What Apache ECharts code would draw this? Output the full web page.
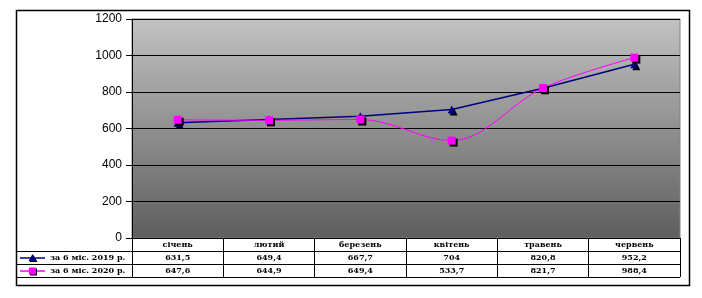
<!DOCTYPE html>
<html><head><meta charset="utf-8">
<script src="https://cdn.jsdelivr.net/npm/echarts@6/dist/echarts.min.js"></script>
<style>html,body{margin:0;padding:0;background:#fff}#c{width:702px;height:298px}</style>
</head><body><div id="c"></div>
<script>
const categories = ['січень','лютий','березень','квітень','травень','червень'];
const series2019 = [631.5, 649.4, 667.7, 704, 820.8, 952.2];
const series2020 = [647.6, 644.9, 649.4, 533.7, 821.7, 988.4];
const seriesNames = ['за 6 міс. 2019 р.', 'за 6 міс. 2020 р.'];
const yTicks = {min: 0, max: 1200, interval: 200};

const fmt = v => String(v).replace('.', ',');
const tableFont = {fontFamily: 'DejaVu Serif', fontWeight: 'bold', fontSize: 8, color: '#000'};
const shadow = {shadowColor: '#000', shadowBlur: 0, shadowOffsetX: 2, shadowOffsetY: 2, borderWidth: 0};

function tableAxis(data, offset) {
  return {
    type: 'category', position: 'bottom', offset: offset, data: data,
    boundaryGap: true,
    axisLine: {show: true, lineStyle: {color: '#000', width: 1}},
    axisTick: {show: true, interval: 0, length: 13, lineStyle: {color: '#000', width: 1}},
    axisLabel: Object.assign({interval: 0, margin: 3}, tableFont),
    splitLine: {show: false}
  };
}

const chart = echarts.init(document.getElementById('c'), null, {renderer: 'canvas'});
chart.setOption({
  animation: false,
  backgroundColor: '#fff',
  grid: {
    left: 132, right: 22, top: 19, bottom: 60, show: true,
    backgroundColor: new echarts.graphic.LinearGradient(0, 0, 0, 1, [
      {offset: 0, color: '#c2c2c2'}, {offset: 1, color: '#5e5e5e'}
    ]),
    borderColor: '#808080', borderWidth: 1
  },
  xAxis: [
    tableAxis(categories, 0),
    tableAxis(series2019.map(fmt), 13),
    tableAxis(series2020.map(fmt), 26)
  ],
  yAxis: {
    type: 'value', min: yTicks.min, max: yTicks.max, interval: yTicks.interval,
    axisLine: {show: true, lineStyle: {color: '#000', width: 1}},
    axisTick: {show: true, length: 6, lineStyle: {color: '#000'}},
    axisLabel: {color: '#000', fontFamily: 'Liberation Sans', fontSize: 12, margin: 10, formatter: v => String(v)},
    splitLine: {show: true, lineStyle: {color: '#000', width: 1}}
  },
  series: [
    {
      name: seriesNames[0], type: 'line', xAxisIndex: 0, data: series2019,
      symbol: 'triangle', symbolSize: 8,
      lineStyle: {color: '#000080', width: 1.5},
      itemStyle: Object.assign({color: '#000080'}, shadow)
    },
    {
      name: seriesNames[1], type: 'line', xAxisIndex: 0, data: series2020,
      symbol: 'rect', symbolSize: 8, smooth: 0.35,
      lineStyle: {color: '#ff00ff', width: 1},
      itemStyle: Object.assign({color: '#ff00ff'}, shadow)
    }
  ],
  graphic: [
    {type: 'rect', shape: {x: 16.5, y: 10.5, width: 673, height: 275}, style: {fill: 'none', stroke: '#000', lineWidth: 1.5}, z: 100},
    {type: 'line', shape: {x1: 16.5, y1: 251.5, x2: 132, y2: 251.5}, style: {stroke: '#000', lineWidth: 1}},
    {type: 'line', shape: {x1: 16.5, y1: 264.5, x2: 132, y2: 264.5}, style: {stroke: '#000', lineWidth: 1}},
    {type: 'line', shape: {x1: 16.5, y1: 277.5, x2: 680, y2: 277.5}, style: {stroke: '#000', lineWidth: 1}},
    {type: 'line', shape: {x1: 20, y1: 258, x2: 45, y2: 258}, style: {stroke: '#000080', lineWidth: 1.5}},
    {type: 'polygon', shape: {points: [[32.5, 254], [28.5, 261], [36.5, 261]]}, style: {fill: '#000080', shadowColor: '#000', shadowOffsetX: 1, shadowOffsetY: 1}},
    {type: 'text', x: 50, y: 258, style: {text: seriesNames[0], verticalAlign: 'middle', fill: '#000', font: 'bold 8px "DejaVu Serif"'}},
    {type: 'line', shape: {x1: 20, y1: 271, x2: 45, y2: 271}, style: {stroke: '#ff00ff', lineWidth: 1.5}},
    {type: 'rect', shape: {x: 29, y: 267.5, width: 7, height: 7}, style: {fill: '#ff00ff', shadowColor: '#000', shadowOffsetX: 1, shadowOffsetY: 1}},
    {type: 'text', x: 50, y: 271, style: {text: seriesNames[1], verticalAlign: 'middle', fill: '#000', font: 'bold 8px "DejaVu Serif"'}}
  ]
});
</script></body></html>
